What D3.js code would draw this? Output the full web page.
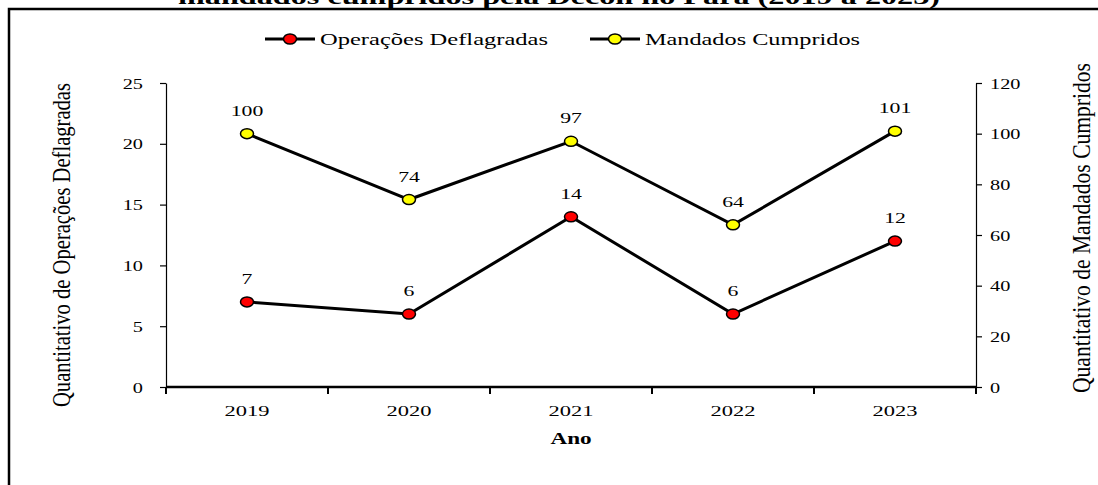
<!DOCTYPE html>
<html lang="pt">
  <head>
    <meta charset="utf-8" />
    <title>Operações e mandados</title>
    <script src="https://d3js.org/d3.v7.min.js"></script>
    <style>
      body { margin: 0; padding: 0; background: #fff; }
      svg { display: block; }
      text { font-family: "Liberation Serif", "DejaVu Serif", serif; fill: #000; }
      .axis path, .axis line { stroke: #000; }
    </style>
  </head>
  <body>
    <svg id="chart" width="1098" height="485"></svg>
    <script>
      // data
      var anos = ["2019", "2020", "2021", "2022", "2023"];
      var operacoes = [7, 6, 14, 6, 12];
      var mandados = [100, 74, 97, 64, 101];
      var ticksOperacoes = [0, 5, 10, 15, 20, 25];
      var ticksMandados = [0, 20, 40, 60, 80, 100, 120];
      var titulo = "mandados cumpridos pela Decon no Pará (2019 a 2023)";

      var sx = 1.45; // the original picture is stretched sideways
      var svg = d3.select("#chart");
      var margin = {top: 83, left: 166, right: 976, bottom: 387};

      // frame + cut title
      svg.append("rect")
        .attr("x", 9).attr("y", 9).attr("width", 1200).attr("height", 600)
        .attr("fill", "none").attr("stroke", "#000").attr("stroke-width", 2.5);
      svg.append("text")
        .attr("x", 178).attr("y", 4)
        .attr("textLength", 762).attr("lengthAdjust", "spacingAndGlyphs")
        .style("font-size", "22px").style("font-weight", "bold")
        .text(titulo);

      // scales
      var x = d3.scaleBand().domain(anos).range([margin.left, margin.right]);
      var yL = d3.scaleLinear().domain([0, 25]).range([margin.bottom, margin.top]);
      var yR = d3.scaleLinear().domain([0, 120]).range([margin.bottom, margin.top]);
      var cx = function(i){ return x(anos[i]) + x.bandwidth() / 2; };

      function stretchTicks(g, anchor, dx, dy, size){
        g.selectAll("text")
          .attr("x", null).attr("y", null).attr("dy", null)
          .attr("text-anchor", anchor)
          .style("font-size", size + "px")
          .attr("transform", "translate(" + dx + "," + dy + ") scale(" + sx + ",1)");
      }

      // left axis
      var gL = svg.append("g").attr("class", "axis")
        .attr("transform", "translate(" + margin.left + ",0)")
        .call(d3.axisLeft(yL).tickValues(ticksOperacoes).tickSize(6).tickSizeOuter(0));
      gL.select(".domain").attr("stroke-width", 1.2);
      gL.selectAll("line").attr("stroke-width", 1.2);
      stretchTicks(gL, "end", -23, 5, 14);

      // right axis
      var gR = svg.append("g").attr("class", "axis")
        .attr("transform", "translate(" + margin.right + ",0)")
        .call(d3.axisRight(yR).tickValues(ticksMandados).tickSize(6).tickSizeOuter(0));
      gR.select(".domain").attr("stroke-width", 1.2);
      gR.selectAll("line").attr("stroke-width", 1.2);
      stretchTicks(gR, "start", 14, 5, 14);

      // bottom axis: ticks on band edges
      var gX = svg.append("g").attr("class", "axis")
        .attr("transform", "translate(0," + margin.bottom + ")");
      gX.append("line").attr("x1", margin.left).attr("x2", margin.right)
        .attr("stroke-width", 2.5);
      gX.selectAll(".edge").data(anos.concat(["end"])).join("line")
        .attr("class", "edge")
        .attr("x1", function(d, i){ return margin.left + i * x.bandwidth(); })
        .attr("x2", function(d, i){ return margin.left + i * x.bandwidth(); })
        .attr("y1", 0).attr("y2", 7).attr("stroke-width", 2);
      gX.selectAll(".ano").data(anos).join("text")
        .attr("class", "ano")
        .attr("text-anchor", "middle")
        .style("font-size", "15.5px")
        .attr("transform", function(d, i){ return "translate(" + cx(i) + ",29) scale(" + sx + ",1)"; })
        .text(function(d){ return d; });

      svg.append("text")
        .attr("text-anchor", "middle")
        .style("font-size", "16px").style("font-weight", "bold")
        .attr("transform", "translate(" + ((margin.left + margin.right) / 2) + ",444) scale(" + sx + ",1)")
        .text("Ano");

      // axis titles
      svg.append("text")
        .attr("text-anchor", "middle")
        .attr("textLength", 324).attr("lengthAdjust", "spacingAndGlyphs")
        .style("font-size", "17px")
        .attr("transform", "translate(70,245) scale(" + sx + ",1) rotate(-90)")
        .text("Quantitativo de Operações Deflagradas");
      svg.append("text")
        .attr("text-anchor", "middle")
        .attr("textLength", 330).attr("lengthAdjust", "spacingAndGlyphs")
        .style("font-size", "17px")
        .attr("transform", "translate(1090,228) scale(" + sx + ",1) rotate(-90)")
        .text("Quantitativo de Mandados Cumpridos");

      // series
      var series = [
        {nome: "Operações Deflagradas", valores: operacoes, y: yL, cor: "#ff0000"},
        {nome: "Mandados Cumpridos", valores: mandados, y: yR, cor: "#ffff00"}
      ];

      series.forEach(function(s){
        var line = d3.line()
          .x(function(d, i){ return cx(i); })
          .y(function(d){ return s.y(d); });
        svg.append("path")
          .attr("d", line(s.valores))
          .attr("fill", "none").attr("stroke", "#000").attr("stroke-width", 3);
        svg.selectAll(null).data(s.valores).join("ellipse")
          .attr("cx", function(d, i){ return cx(i); })
          .attr("cy", function(d){ return s.y(d); })
          .attr("rx", 6.5).attr("ry", 5)
          .attr("fill", s.cor).attr("stroke", "#000").attr("stroke-width", 1.5);
        svg.selectAll(null).data(s.valores).join("text")
          .attr("text-anchor", "middle")
          .style("font-size", "15px")
          .attr("transform", function(d, i){ return "translate(" + cx(i) + "," + (s.y(d) - 18) + ") scale(" + sx + ",1)"; })
          .text(function(d){ return d; });
      });

      // legend
      var legend = [
        {x: 265, tw: 228},
        {x: 590, tw: 215}
      ];
      series.forEach(function(s, i){
        var lg = svg.append("g").attr("transform", "translate(" + legend[i].x + ",39)");
        lg.append("line").attr("x1", 0).attr("x2", 50)
          .attr("stroke", "#000").attr("stroke-width", 3);
        lg.append("ellipse").attr("cx", 25).attr("rx", 6.5).attr("ry", 5)
          .attr("fill", s.cor).attr("stroke", "#000").attr("stroke-width", 1.5);
        lg.append("text")
          .attr("x", 55).attr("y", 6)
          .attr("textLength", legend[i].tw).attr("lengthAdjust", "spacingAndGlyphs")
          .style("font-size", "17px")
          .text(s.nome);
      });
    </script>
  </body>
</html>
